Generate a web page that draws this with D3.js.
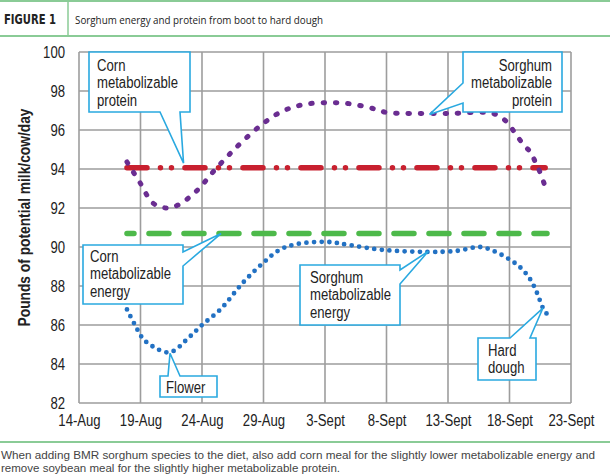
<!DOCTYPE html>
<html>
<head>
<meta charset="utf-8">
<script src="https://cdn.jsdelivr.net/npm/d3@7"></script>
<style>
  body { margin: 0; background: #fff; }
  svg { display: block; }
  .narrow { font-family: 'Liberation Sans', Arial, sans-serif; }
</style>
</head>
<body>
<svg id="chart" width="610" height="476"></svg>
<script>
// days after 14-Aug
const xTickDays = [0, 5, 10, 15, 20, 25, 30, 35, 40];
const xTickLabels = ['14-Aug', '19-Aug', '24-Aug', '29-Aug', '3-Sept', '8-Sept', '13-Sept', '18-Sept', '23-Sept'];
const yTicks = [82, 84, 86, 88, 90, 92, 94, 96, 98, 100];

const sorghumEnergy = [
  [3.9, 86.8], [4.55, 86.0], [5.2, 85.3], [6.0, 84.9], [7.4, 84.6], [9.0, 85.4],
  [10.0, 86.0], [11.5, 86.8], [13.3, 88.15], [15.0, 89.2], [16.3, 89.85], [17.7, 90.15],
  [20.2, 90.26], [22.0, 90.1], [24.7, 89.85], [28.3, 89.75], [30.7, 89.8], [32.6, 90.0],
  [33.7, 89.8], [34.9, 89.4], [35.85, 88.97], [36.67, 88.36], [37.24, 87.64],
  [37.72, 86.87], [38.05, 86.56]
];
const sorghumProtein = [
  [3.9, 94.36], [4.96, 93.3], [6.0, 92.26], [7.07, 92.0], [8.05, 92.15], [9.6, 92.9],
  [10.9, 93.85], [12.3, 94.8], [13.1, 95.3], [14.9, 96.3], [16.5, 96.95], [18.2, 97.3],
  [20.2, 97.4], [22.0, 97.35], [23.9, 97.1], [25.0, 96.9], [26.9, 96.85], [30.2, 96.85],
  [33.0, 96.9], [34.0, 96.77], [34.8, 96.4], [35.5, 95.8], [36.2, 95.2], [36.7, 94.87],
  [37.1, 94.36], [37.5, 93.8], [37.9, 93.1]
];
const cornProtein = [[3.9, 94.07], [37.9, 94.07]];
const cornEnergy = [[3.9, 90.69], [38.05, 90.69]];

const svg = d3.select('#chart');
const W = 610, H = 476;
const margin = { top: 52, right: 39, bottom: 73, left: 79 };
const green = '#8acb96';
const cyan = '#2aa9e0';
const grid = '#9d9d9d';

// squeeze Arial-metric text to look like a condensed face
function condense(sel, k) {
  sel.each(function () {
    const w = this.getComputedTextLength();
    d3.select(this).attr('textLength', w * k).attr('lengthAdjust', 'spacingAndGlyphs');
  });
}

// header
svg.append('line').attr('x1', 0).attr('x2', W).attr('y1', 1).attr('y2', 1)
  .attr('stroke', green).attr('stroke-width', 2);
svg.append('line').attr('x1', 0).attr('x2', W).attr('y1', 36).attr('y2', 36)
  .attr('stroke', green).attr('stroke-width', 2);
svg.append('line').attr('x1', 68).attr('x2', 68).attr('y1', 1).attr('y2', 36)
  .attr('stroke', green).attr('stroke-width', 1.5);
svg.append('text').attr('x', 4).attr('y', 24)
  .attr('font-family', "'DejaVu Sans Condensed', 'DejaVu Sans', sans-serif")
  .attr('font-weight', 'bold').attr('font-size', 14).attr('fill', '#222')
  .attr('textLength', 52).attr('lengthAdjust', 'spacingAndGlyphs')
  .text('FIGURE 1');
svg.append('text').attr('x', 75).attr('y', 23.5)
  .attr('font-family', "'Open Sans', sans-serif").attr('font-size', 11.5).attr('fill', '#222')
  .attr('textLength', 248).attr('lengthAdjust', 'spacingAndGlyphs')
  .text('Sorghum energy and protein from boot to hard dough');

// footer
svg.append('line').attr('x1', 0).attr('x2', W).attr('y1', 442).attr('y2', 442)
  .attr('stroke', green).attr('stroke-width', 2);
const foot = svg.append('g').attr('class', 'narrow').attr('font-size', 11).attr('fill', '#444');
foot.append('text').attr('x', 1).attr('y', 458.5)
  .attr('textLength', 594).attr('lengthAdjust', 'spacingAndGlyphs')
  .text('When adding BMR sorghum species to the diet, also add corn meal for the slightly lower metabolizable energy and');
foot.append('text').attr('x', 1).attr('y', 472)
  .attr('textLength', 339).attr('lengthAdjust', 'spacingAndGlyphs')
  .text('remove soybean meal for the slightly higher metabolizable protein.');

// scales
const x = d3.scaleLinear().domain([0, 40]).range([margin.left, W - margin.right]);
const y = d3.scaleLinear().domain([82, 100]).range([H - margin.bottom, margin.top]);

// grid
const g = svg.append('g');
g.selectAll('.hg').data(yTicks).enter().append('line')
  .attr('x1', x(0)).attr('x2', x(40)).attr('y1', d => y(d)).attr('y2', d => y(d))
  .attr('stroke', grid).attr('stroke-width', 1.6);
g.selectAll('.vg').data(xTickDays).enter().append('line')
  .attr('y1', y(82)).attr('y2', y(100)).attr('x1', d => x(d)).attr('x2', d => x(d))
  .attr('stroke', grid).attr('stroke-width', 1.6);

// axes
const yAxis = svg.append('g')
  .attr('transform', `translate(${x(0)},0)`)
  .call(d3.axisLeft(y).tickValues(yTicks).tickSize(0).tickPadding(14));
const xAxis = svg.append('g')
  .attr('transform', `translate(0,${y(82)})`)
  .call(d3.axisBottom(x).tickValues(xTickDays).tickSize(0).tickPadding(12)
    .tickFormat((d, i) => xTickLabels[i]));
[yAxis, xAxis].forEach(a => {
  a.select('.domain').remove();
  a.selectAll('text').attr('font-size', 16).attr('fill', '#222')
    .attr('font-family', "'Liberation Sans', Arial, sans-serif")
    .call(condense, 0.82);
});

svg.append('text').attr('class', 'narrow')
  .attr('transform', `translate(30,${(y(82) + y(100)) / 2 - 10}) rotate(-90)`)
  .attr('text-anchor', 'middle').attr('font-weight', 'bold').attr('font-size', 16)
  .attr('fill', '#222')
  .text('Pounds of potential milk/cow/day')
  .call(condense, 0.86);

// series
const line = d3.line().x(d => x(d[0])).y(d => y(d[1])).curve(d3.curveCatmullRom.alpha(0.5));
const straight = d3.line().x(d => x(d[0])).y(d => y(d[1]));

svg.append('path').attr('d', straight(cornEnergy)).attr('fill', 'none')
  .attr('stroke', '#4db94a').attr('stroke-width', 5.5).attr('stroke-linecap', 'round')
  .attr('stroke-dasharray', '20 15').attr('stroke-dashoffset', 13);
svg.append('path').attr('d', straight(cornProtein)).attr('fill', 'none')
  .attr('stroke', '#c8202f').attr('stroke-width', 5.5).attr('stroke-linecap', 'round')
  .attr('stroke-dasharray', '20 13.5 0 11 0 13.5');
svg.append('path').attr('d', line(sorghumProtein)).attr('fill', 'none')
  .attr('stroke', '#6a2d91').attr('stroke-width', 5).attr('stroke-linecap', 'round')
  .attr('stroke-dasharray', '1.5 10.8');
svg.append('path').attr('d', line(sorghumEnergy)).attr('fill', 'none')
  .attr('stroke', '#2271c3').attr('stroke-width', 4.8).attr('stroke-linecap', 'round')
  .attr('stroke-dasharray', '0 7.6');

// callouts: box [x0, y0, x1, y1], tip in data units, wedge attachment
const callouts = [
  { lines: ['Corn', 'metabolizable', 'protein'], box: [89, 52, 190, 112], tip: [8.5, 94.3],
    side: 'bottom', w: [160, 180], tx: 97, ty: 70.5, anchor: 'start' },
  { lines: ['Sorghum', 'metabolizable', 'protein'], box: [463, 52, 562, 112], tip: [28.5, 96.8],
    side: 'left', w: [83, 103], tx: 552, ty: 70.5, anchor: 'end' },
  { lines: ['Corn', 'metabolizable', 'energy'], box: [83, 245, 183, 304], tip: [11.55, 90.69],
    side: 'right', w: [252, 266], tx: 90, ty: 261.5, anchor: 'start' },
  { lines: ['Sorghum', 'metabolizable', 'energy'], box: [300, 265, 400, 325], tip: [28.4, 89.78],
    side: 'right', w: [270, 284], tx: 310, ty: 282.5, anchor: 'start' },
  { lines: ['Flower'], box: [160, 376, 217, 397], tip: [7.4, 84.55],
    side: 'top', w: [168, 180], tx: 166, ty: 392.5, anchor: 'start' },
  { lines: ['Hard', 'dough'], box: [478, 338, 536, 380], tip: [37.72, 86.87],
    side: 'top', w: [510, 530], tx: 488, ty: 355.5, anchor: 'start' }
];

function calloutPath(c) {
  const [x0, y0, x1, y1] = c.box;
  const tx = x(c.tip[0]), ty = y(c.tip[1]);
  const [a, b] = c.w;
  if (c.side === 'bottom') return `M${x0},${y0}H${x1}V${y1}H${b}L${tx},${ty}L${a},${y1}H${x0}Z`;
  if (c.side === 'top') return `M${x0},${y0}H${a}L${tx},${ty}L${b},${y0}H${x1}V${y1}H${x0}Z`;
  if (c.side === 'left') return `M${x0},${y0}H${x1}V${y1}H${x0}V${b}L${tx},${ty}L${x0},${a}Z`;
  return `M${x0},${y0}H${x1}V${a}L${tx},${ty}L${x1},${b}V${y1}H${x0}Z`;
}

const cg = svg.append('g').selectAll('g').data(callouts).enter().append('g');
cg.append('path').attr('d', calloutPath).attr('fill', '#fff')
  .attr('stroke', cyan).attr('stroke-width', 1.6).attr('stroke-linejoin', 'miter');
cg.selectAll('text').data(d => d.lines.map((t, i) => ({ t, i, d }))).enter().append('text')
  .attr('class', 'narrow').attr('font-size', 16).attr('fill', '#222')
  .attr('text-anchor', e => e.d.anchor)
  .attr('x', e => e.d.tx).attr('y', e => e.d.ty + e.i * 17.5)
  .text(e => e.t)
  .call(condense, 0.82);
</script>
</body>
</html>
